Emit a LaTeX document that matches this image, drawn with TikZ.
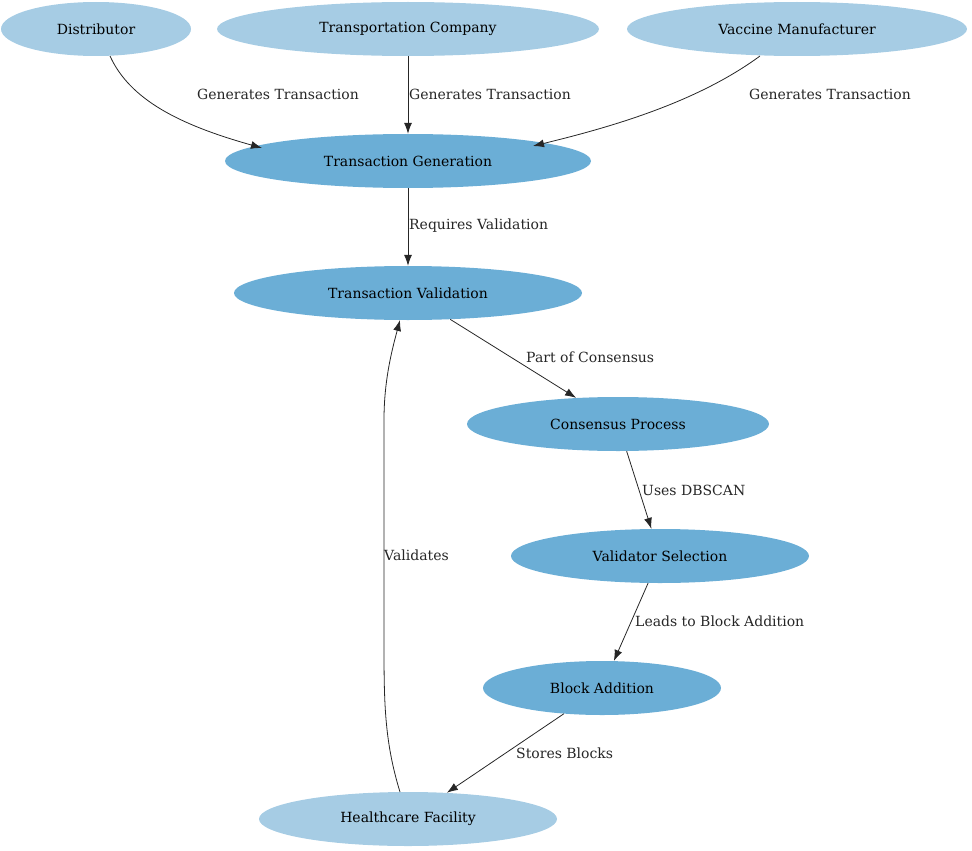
\documentclass[tikz,border=0pt]{standalone}
\usepackage{fontspec}
\setmainfont{DejaVu Serif}
\usetikzlibrary{shapes.geometric,arrows.meta}
\definecolor{lightb}{HTML}{A6CCE4}
\definecolor{darkb}{HTML}{6BAED6}
\begin{document}
\begin{tikzpicture}[x=1pt,y=-1pt,
  ent/.style={ellipse,fill=lightb,draw=none,minimum height=54pt,inner sep=0pt,font=\fontsize{14}{16}\selectfont},
  proc/.style={ent,fill=darkb},
  edge/.style={draw=black!85,line width=0.8pt,-{Latex[length=11pt,width=8pt]}},
  lab/.style={font=\fontsize{14}{16}\selectfont,text=black!85,inner sep=1pt}]
\useasboundingbox (0,0) rectangle (972,851);
\node[ent,minimum width=190pt] (dist) at (96,29) {Distributor};
\node[ent,minimum width=382pt] (tc) at (408,29) {Transportation Company};
\node[ent,minimum width=340pt] (vm) at (797,29) {Vaccine Manufacturer};
\node[proc,minimum width=366pt] (tg) at (408,161) {Transaction Generation};
\node[proc,minimum width=348pt] (tv) at (408,293) {Transaction Validation};
\node[proc,minimum width=302pt] (cp) at (618,424) {Consensus Process};
\node[proc,minimum width=298pt] (vs) at (660,556) {Validator Selection};
\node[proc,minimum width=238pt] (ba) at (602,688) {Block Addition};
\node[ent,minimum width=298pt] (hf) at (408,819) {Healthcare Facility};
\coordinate (d1) at (110,56);
\coordinate (t1) at (262,148);
\draw[edge] (d1) .. controls (130,100) and (180,125) .. (t1);
\node[lab] at (278,94) {Generates Transaction};
\draw[edge] (tc) -- (tg);
\node[lab,anchor=west] at (408,94) {Generates Transaction};
\coordinate (v1) at (760,56);
\coordinate (t2) at (533,146);
\draw[edge] (v1) .. controls (700,100) and (620,125) .. (t2);
\node[lab] at (830,94) {Generates Transaction};
\draw[edge] (tg) -- (tv);
\node[lab,anchor=west] at (408,226) {Requires Validation};
\draw[edge] (tv) -- (cp);
\node[lab,anchor=west] at (525,357) {Part of Consensus};
\draw[edge] (cp) -- (vs);
\node[lab,anchor=west] at (641,490) {Uses DBSCAN};
\draw[edge] (vs) -- (ba);
\node[lab,anchor=west] at (634,621) {Leads to Block Addition};
\draw[edge] (ba) -- (hf);
\node[lab,anchor=west] at (515,753) {Stores Blocks};
\coordinate (h1) at (400,792);
\coordinate (tv1) at (400,320);
\draw[edge] (h1) .. controls (384,740) and (384,700) .. (384,640) -- (384,420) .. controls (384,380) and (392,350) .. (tv1);
\node[lab,anchor=west] at (383,555) {Validates};
\end{tikzpicture}
\end{document}
